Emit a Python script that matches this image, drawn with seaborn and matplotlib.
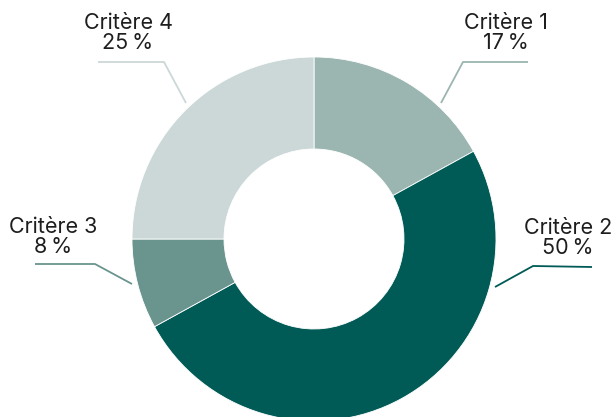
import matplotlib
matplotlib.use("Agg")
import matplotlib.pyplot as plt
import seaborn as sns

# data
criteres = ["Critère 1", "Critère 2", "Critère 3", "Critère 4"]
parts = [17, 50, 8, 25]
colors = ["#9bb5b0", "#005a55", "#6a948e", "#cbd8d7"]

# label layout in pixel coords (x, y from top): wedge point, elbow, line end, text centre
label_layout = {
    "Critère 1": dict(start=(441, 103), elbow=(463, 62), end=(528, 62), text=(506, 33)),
    "Critère 2": dict(start=(495, 287), elbow=(533, 266), end=(592, 267), text=(568, 238)),
    "Critère 3": dict(start=(132, 284), elbow=(95, 264), end=(35, 264), text=(53, 237)),
    "Critère 4": dict(start=(186, 103), elbow=(164, 62), end=(98, 62), text=(128, 33)),
}

W, H = 614, 417
CX, CY, R, R_IN = 314, 239, 182, 90

sns.set_theme(style="white")
plt.rcParams['font.family'] = ['Inter', 'DejaVu Sans']

fig = plt.figure(figsize=(W / 100, H / 100), dpi=100)
ax = fig.add_axes([0, 0, 1, 1])

def fy(y):
    return H - y   # flip pixel y to data y

ax.pie(parts, colors=colors, startangle=90, counterclock=False,
       center=(CX, fy(CY)), radius=R,
       wedgeprops=dict(width=R - R_IN, edgecolor="white", linewidth=0.6))

for name, p, c in zip(criteres, parts, colors):
    lay = label_layout[name]
    xs = [lay["start"][0], lay["elbow"][0], lay["end"][0]]
    ys = [fy(lay["start"][1]), fy(lay["elbow"][1]), fy(lay["end"][1])]
    ax.plot(xs, ys, color=c, lw=1.3, solid_capstyle="butt")
    ax.text(lay["text"][0], fy(lay["text"][1]), f"{name}\n{p}\u202f%",
            ha="center", va="center", fontsize=15.5, color="#1e1e1e",
            linespacing=1.0)

ax.set_xlim(0, W)
ax.set_ylim(0, H)
ax.set_aspect("equal")
ax.axis("off")

fig.savefig("out.png", dpi=100)
